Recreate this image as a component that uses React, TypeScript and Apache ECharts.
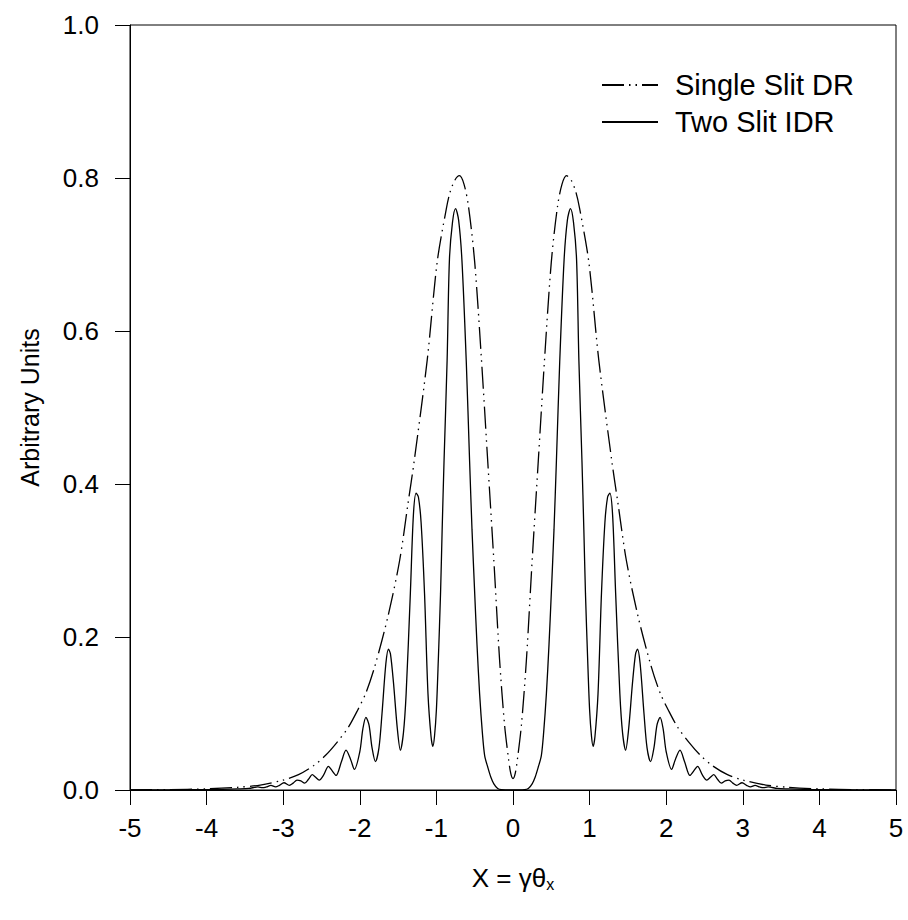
import React, { useEffect, useRef } from "react";
import * as echarts from "echarts";

const FONT = "'Liberation Sans', Arial, sans-serif";

const xTicks = [-5, -4, -3, -2, -1, 0, 1, 2, 3, 4, 5];
const yTicks = [0, 0.2, 0.4, 0.6, 0.8, 1.0];

const singleSlitName = "Single Slit DR";
const twoSlitName = "Two Slit IDR";

// Single slit diffraction radiation (dash-dot), [x, y]
const singleSlit: [number, number][] = [
  [-5.0, 0.0002], [-4.5, 0.0005], [-4.0, 0.0015], [-3.6, 0.0035], [-3.3, 0.0065],
  [-3.0, 0.013], [-2.8, 0.02], [-2.6, 0.032], [-2.45, 0.045], [-2.3, 0.062],
  [-2.15, 0.082], [-2.03, 0.104], [-1.92, 0.127], [-1.8, 0.163], [-1.63, 0.228],
  [-1.48, 0.3], [-1.37, 0.375], [-1.29, 0.43], [-1.12, 0.562], [-0.99, 0.69],
  [-0.87, 0.76], [-0.82, 0.782], [-0.76, 0.797], [-0.7, 0.803], [-0.64, 0.792],
  [-0.58, 0.762], [-0.5, 0.69], [-0.41, 0.56], [-0.33, 0.43], [-0.25, 0.3],
  [-0.175, 0.17], [-0.11, 0.085], [-0.06, 0.042], [-0.03, 0.022], [0, 0.015],
  [0.03, 0.022], [0.06, 0.042], [0.11, 0.085], [0.175, 0.17], [0.25, 0.3],
  [0.33, 0.43], [0.41, 0.56], [0.5, 0.69], [0.58, 0.762], [0.64, 0.792],
  [0.7, 0.803], [0.76, 0.797], [0.82, 0.782], [0.87, 0.76], [0.99, 0.69],
  [1.12, 0.562], [1.29, 0.43], [1.37, 0.375], [1.48, 0.3], [1.63, 0.228],
  [1.8, 0.163], [1.92, 0.127], [2.03, 0.104], [2.15, 0.082], [2.3, 0.062],
  [2.45, 0.045], [2.6, 0.032], [2.8, 0.02], [3.0, 0.013], [3.3, 0.0065],
  [3.6, 0.0035], [4.0, 0.0015], [4.5, 0.0005], [5.0, 0.0002],
];

// Two slit interference diffraction radiation (solid), [x, y]
const twoSlit: [number, number][] = [
  [-5.0, 0], [-4.5, 0.0002], [-4.0, 0.0005], [-3.6, 0.0015], [-3.45, 0.002],
  [-3.33, 0.004], [-3.27, 0.003], [-3.22, 0.004], [-3.16, 0.006], [-3.1, 0.004],
  [-3.05, 0.006], [-2.99, 0.0095], [-2.92, 0.006], [-2.87, 0.009], [-2.82, 0.013],
  [-2.77, 0.012], [-2.72, 0.009], [-2.67, 0.014], [-2.62, 0.02], [-2.58, 0.017],
  [-2.53, 0.013], [-2.47, 0.02], [-2.41, 0.031], [-2.36, 0.025], [-2.31, 0.019],
  [-2.24, 0.037], [-2.18, 0.052], [-2.12, 0.04], [-2.07, 0.027], [-2.0, 0.05],
  [-1.96, 0.08], [-1.92, 0.095], [-1.88, 0.085], [-1.84, 0.055], [-1.796, 0.037],
  [-1.75, 0.055], [-1.71, 0.1], [-1.66, 0.165], [-1.626, 0.184], [-1.6, 0.178],
  [-1.56, 0.14], [-1.51, 0.08], [-1.47, 0.052], [-1.43, 0.075], [-1.395, 0.126],
  [-1.34, 0.257], [-1.3, 0.36], [-1.264, 0.388], [-1.235, 0.383], [-1.2, 0.35],
  [-1.155, 0.257], [-1.11, 0.126], [-1.07, 0.07], [-1.046, 0.057], [-1.025, 0.07],
  [-1.0, 0.105], [-0.975, 0.17], [-0.946, 0.257], [-0.925, 0.34], [-0.9, 0.431],
  [-0.86, 0.562], [-0.83, 0.693], [-0.79, 0.742], [-0.75, 0.76], [-0.71, 0.745],
  [-0.667, 0.693], [-0.61, 0.56], [-0.567, 0.431], [-0.535, 0.34], [-0.5, 0.257],
  [-0.47, 0.19], [-0.436, 0.126], [-0.4, 0.075], [-0.37, 0.045], [-0.33, 0.03],
  [-0.29, 0.017], [-0.25, 0.008], [-0.2, 0.002], [-0.15, 0.0005], [0, 0],
  [0.15, 0.0005], [0.2, 0.002], [0.25, 0.008], [0.29, 0.017], [0.33, 0.03],
  [0.37, 0.045], [0.4, 0.075], [0.436, 0.126], [0.47, 0.19], [0.5, 0.257],
  [0.535, 0.34], [0.567, 0.431], [0.61, 0.56], [0.667, 0.693], [0.71, 0.745],
  [0.75, 0.76], [0.79, 0.742], [0.83, 0.693], [0.86, 0.562], [0.9, 0.431],
  [0.925, 0.34], [0.946, 0.257], [0.975, 0.17], [1.0, 0.105], [1.025, 0.07],
  [1.046, 0.057], [1.07, 0.07], [1.11, 0.126], [1.155, 0.257], [1.2, 0.35],
  [1.235, 0.383], [1.264, 0.388], [1.3, 0.36], [1.34, 0.257], [1.395, 0.126],
  [1.43, 0.075], [1.47, 0.052], [1.51, 0.08], [1.56, 0.14], [1.6, 0.178],
  [1.626, 0.184], [1.66, 0.165], [1.71, 0.1], [1.75, 0.055], [1.796, 0.037],
  [1.84, 0.055], [1.88, 0.085], [1.92, 0.095], [1.96, 0.08], [2.0, 0.05],
  [2.07, 0.027], [2.12, 0.04], [2.18, 0.052], [2.24, 0.037], [2.31, 0.019],
  [2.36, 0.025], [2.41, 0.031], [2.47, 0.02], [2.53, 0.013], [2.58, 0.017],
  [2.62, 0.02], [2.67, 0.014], [2.72, 0.009], [2.77, 0.012], [2.82, 0.013],
  [2.87, 0.009], [2.92, 0.006], [2.99, 0.0095], [3.05, 0.006], [3.1, 0.004],
  [3.16, 0.006], [3.22, 0.004], [3.27, 0.003], [3.33, 0.004], [3.45, 0.002],
  [3.6, 0.0015], [4.0, 0.0005], [4.5, 0.0002], [5.0, 0],
];

export default function App() {
  const ref = useRef<HTMLDivElement>(null);

  useEffect(() => {
    if (!ref.current) return;
    const chart = echarts.init(ref.current, null, { renderer: "svg" });
    const axisLine = { show: true, onZero: false, lineStyle: { color: "#000", width: 1 } };
    chart.setOption({
      animation: false,
      backgroundColor: "#fff",
      textStyle: { fontFamily: FONT, color: "#000" },
      grid: {
        left: 130,
        right: 12,
        top: 25,
        bottom: 130,
        show: true,
        borderColor: "#000",
        borderWidth: 1,
        backgroundColor: "transparent",
      },
      legend: {
        orient: "vertical",
        left: 601,
        top: 70,
        padding: 0,
        itemWidth: 56,
        itemHeight: 14,
        itemGap: 7,
        selectedMode: false,
        itemStyle: { opacity: 0, borderWidth: 0 },
        textStyle: {
          fontFamily: FONT,
          fontSize: 29,
          color: "#000",
          lineHeight: 30,
          padding: [0, 0, 0, 12],
        },
        data: [singleSlitName, twoSlitName],
      },
      xAxis: {
        type: "value",
        min: xTicks[0],
        max: xTicks[xTicks.length - 1],
        interval: 1,
        axisLine,
        axisTick: { show: true, inside: false, length: 15, lineStyle: { color: "#000" } },
        axisLabel: {
          margin: 25,
          fontSize: 26,
          fontFamily: FONT,
          color: "#000",
        },
        splitLine: { show: false },
        name: "{a|X = γθ}{b|x}",
        nameLocation: "middle",
        nameGap: 73,
        nameTextStyle: {
          rich: {
            a: { fontSize: 26, fontFamily: FONT, color: "#000" },
            b: {
              fontSize: 16,
              fontFamily: FONT,
              color: "#000",
              verticalAlign: "bottom",
              padding: [13, 0, 0, 0],
            },
          },
        },
      },
      yAxis: {
        type: "value",
        min: yTicks[0],
        max: yTicks[yTicks.length - 1],
        interval: 0.2,
        axisLine,
        axisTick: { show: true, inside: false, length: 15, lineStyle: { color: "#000" } },
        axisLabel: {
          margin: 31,
          fontSize: 26,
          fontFamily: FONT,
          color: "#000",
          formatter: (v: number) => v.toFixed(1),
        },
        splitLine: { show: false },
        name: "Arbitrary Units",
        nameLocation: "middle",
        nameGap: 88,
        nameTextStyle: { fontSize: 25, fontFamily: FONT, color: "#000" },
      },
      series: [
        {
          name: singleSlitName,
          type: "line",
          data: singleSlit,
          symbol: "none",
          smooth: 0.3,
          lineStyle: { color: "#000", width: 1.3, type: [22, 5, 1.5, 5, 1.5, 5] },
          itemStyle: { color: "#000" },
        },
        {
          name: twoSlitName,
          type: "line",
          data: twoSlit,
          symbol: "none",
          smooth: 0.3,
          lineStyle: { color: "#000", width: 1.3, type: "solid" },
          itemStyle: { color: "#000" },
        },
      ],
    });
    return () => chart.dispose();
  }, []);

  return <div ref={ref} style={{ width: 908, height: 920, position: "absolute", left: 0, top: 0 }} />;
}
